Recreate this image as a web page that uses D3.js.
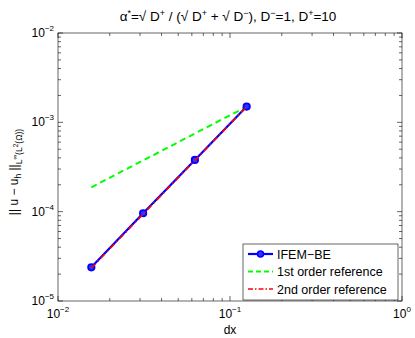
<!doctype html>
<html lang="en">
<head>
<meta charset="utf-8">
<title>IFEM-BE convergence</title>
<style>
    body { margin: 0; background: #fff; }
    svg text { font-family: "Liberation Sans", Arial, sans-serif; fill: #000; }
    .frame { fill: none; stroke: #000; stroke-width: 0.6; }
</style>
</head>
<body>
<svg id="chart" width="415" height="338"></svg>
<script src="https://cdn.jsdelivr.net/npm/d3@7/dist/d3.min.js"></script>
<script>
    // data
    let dx = [0.015625, 0.03125, 0.0625, 0.125];
    let errIfem = [2.38e-5, 9.6e-5, 3.79e-4, 1.5e-3];
    let ref1 = [1.875e-4, 3.75e-4, 7.5e-4, 1.5e-3];
    let ref2 = [2.34e-5, 9.38e-5, 3.75e-4, 1.5e-3];
    let xDecades = [-2, -1, 0];
    let yDecades = [-5, -4, -3, -2];
    let legendNames = ["IFEM\u2212BE", "1st order reference", "2nd order reference"];

    let margin = {left: 58, right: 13, top: 33, bottom: 37};
    let width = 415, height = 338;

    let svg = d3.select("#chart");

    let x = d3.scaleLog().domain([1e-2, 1]).range([margin.left, width - margin.right]);
    let y = d3.scaleLog().domain([1e-5, 1e-2]).range([height - margin.bottom, margin.top]);

    let x0 = x.range()[0], x1 = x.range()[1];
    let y0 = y.range()[0], y1 = y.range()[1];

    // minor + major ticks, drawn inward on all four sides
    function logTicks(domain) {
        let out = [];
        for (let e = Math.log10(domain[0]); e < Math.log10(domain[1]); e++) {
            for (let k = 1; k < 10; k++) out.push({v: k * Math.pow(10, e), major: k === 1});
        }
        out.push({v: domain[1], major: true});
        return out;
    }

    let g = svg.append("g");
    logTicks(x.domain()).forEach(function (t) {
        let len = t.major ? 5 : 3;
        let px = x(t.v);
        g.append("line").attr("x1", px).attr("x2", px).attr("y1", y0).attr("y2", y0 - len)
            .attr("stroke", "#000").attr("stroke-width", 0.6);
        g.append("line").attr("x1", px).attr("x2", px).attr("y1", y1).attr("y2", y1 + len)
            .attr("stroke", "#000").attr("stroke-width", 0.6);
    });
    logTicks(y.domain()).forEach(function (t) {
        let len = t.major ? 5 : 3;
        let py = y(t.v);
        g.append("line").attr("x1", x0).attr("x2", x0 + len).attr("y1", py).attr("y2", py)
            .attr("stroke", "#000").attr("stroke-width", 0.6);
        g.append("line").attr("x1", x1).attr("x2", x1 - len).attr("y1", py).attr("y2", py)
            .attr("stroke", "#000").attr("stroke-width", 0.6);
    });

    svg.append("rect").attr("class", "frame")
        .attr("x", x0).attr("y", y1).attr("width", x1 - x0).attr("height", y0 - y1);

    // tick labels 10^e
    xDecades.forEach(function (e) {
        let t = svg.append("text").attr("x", x(Math.pow(10, e))).attr("y", y0 + 17)
            .attr("text-anchor", "middle").attr("font-size", 12);
        t.append("tspan").text("10");
        t.append("tspan").attr("dy", -6).attr("font-size", 8).text(e === 0 ? "0" : "\u2212" + (-e));
    });
    yDecades.forEach(function (e) {
        let t = svg.append("text").attr("x", x0 - 4).attr("y", y(Math.pow(10, e)) + 4)
            .attr("text-anchor", "end").attr("font-size", 12);
        t.append("tspan").text("10");
        t.append("tspan").attr("dy", -6).attr("font-size", 8).text("\u2212" + (-e));
    });

    // axis labels and title
    svg.append("text").attr("x", (x0 + x1) / 2).attr("y", 334)
        .attr("text-anchor", "middle").attr("font-size", 12).text("dx");

    let yl = svg.append("text").attr("transform", "translate(18,172) rotate(-90)")
        .attr("text-anchor", "middle").attr("font-size", 12);
    yl.append("tspan").text("|| u \u2212 u");
    yl.append("tspan").attr("dy", 3).attr("font-size", 8.5).text("h");
    yl.append("tspan").attr("dy", -3).text(" ||");
    yl.append("tspan").attr("dy", 4).attr("font-size", 8.5).text("L");
    yl.append("tspan").attr("dy", -5).attr("font-size", 6.5).text("\u221e");
    yl.append("tspan").attr("dy", 5).attr("font-size", 8.5).text("(L");
    yl.append("tspan").attr("dy", -4).attr("font-size", 6.5).text("2");
    yl.append("tspan").attr("dy", 4).attr("font-size", 8.5).text("(\u03a9))");

    let title = svg.append("text").attr("x", 228).attr("y", 21)
        .attr("text-anchor", "middle").attr("font-size", 13.5);
    title.append("tspan").text("\u03b1");
    title.append("tspan").attr("dy", -5).attr("font-size", 9).text("*");
    title.append("tspan").attr("dy", 5).text("=\u221a D");
    title.append("tspan").attr("dy", -5).attr("font-size", 9).text("+");
    title.append("tspan").attr("dy", 5).text(" / (\u221a D");
    title.append("tspan").attr("dy", -5).attr("font-size", 9).text("+");
    title.append("tspan").attr("dy", 5).text(" + \u221a D");
    title.append("tspan").attr("dy", -5).attr("font-size", 9).text("\u2212");
    title.append("tspan").attr("dy", 5).text("), D");
    title.append("tspan").attr("dy", -5).attr("font-size", 9).text("\u2212");
    title.append("tspan").attr("dy", 5).text("=1, D");
    title.append("tspan").attr("dy", -5).attr("font-size", 9).text("+");
    title.append("tspan").attr("dy", 5).text("=10");

    // series
    let line = d3.line().x(function (d) { return x(d[0]); }).y(function (d) { return y(d[1]); });
    let pts = function (vals) { return dx.map(function (v, i) { return [v, vals[i]]; }); };

    let plot = svg.append("g");
    plot.append("path").datum(pts(ref1)).attr("d", line).attr("fill", "none")
        .attr("stroke", "#00ff00").attr("stroke-width", 2).attr("stroke-dasharray", "6,4");
    plot.append("path").datum(pts(errIfem)).attr("d", line).attr("fill", "none")
        .attr("stroke", "#0000ff").attr("stroke-width", 2.2);
    plot.selectAll("circle").data(pts(errIfem)).enter().append("circle")
        .attr("cx", function (d) { return x(d[0]); })
        .attr("cy", function (d) { return y(d[1]); })
        .attr("r", 3.2).attr("fill", "#3030ff").attr("stroke", "#0000ff").attr("stroke-width", 1.8);
    plot.append("path").datum(pts(ref2)).attr("d", line).attr("fill", "none")
        .attr("stroke", "#ff0000").attr("stroke-width", 1.6).attr("stroke-dasharray", "6,3,1.5,3");

    // legend
    let lg = svg.append("g").attr("transform", "translate(243,244)");
    lg.append("rect").attr("width", 155).attr("height", 56)
        .attr("fill", "#fff").attr("stroke", "#000").attr("stroke-width", 0.6);
    let styles = [
        {c: "#0000ff", w: 2.2, dash: null, marker: true},
        {c: "#00ff00", w: 2, dash: "5,3", marker: false},
        {c: "#ff0000", w: 1.6, dash: "5,2,1.5,2", marker: false}
    ];
    legendNames.forEach(function (name, i) {
        let yy = 10 + i * 17.5;
        let s = styles[i];
        let l = lg.append("line").attr("x1", 5).attr("x2", 30).attr("y1", yy).attr("y2", yy)
            .attr("stroke", s.c).attr("stroke-width", s.w);
        if (s.dash) l.attr("stroke-dasharray", s.dash);
        if (s.marker) lg.append("circle").attr("cx", 17.5).attr("cy", yy).attr("r", 3)
            .attr("fill", "#3030ff").attr("stroke", "#0000ff").attr("stroke-width", 1.5);
        lg.append("text").attr("x", 34).attr("y", yy + 4.5).attr("font-size", 12.5).text(name);
    });
</script>
</body>
</html>
